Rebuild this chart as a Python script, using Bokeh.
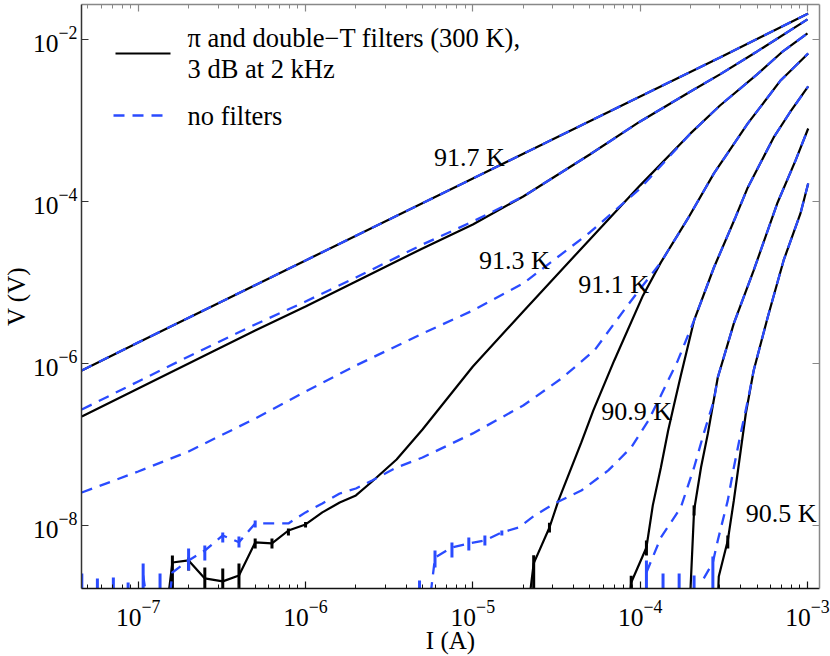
from bokeh.plotting import figure
from bokeh.models import (LogAxis, LogTicker, FixedTicker, Label, Arrow, Range1d)
from bokeh.embed import file_html
from bokeh.resources import INLINE

nan = float("nan")
FONT = "Liberation Serif"
BLACK = "#000000"
BLUE = "#2A4BFF"
DASH = "11 8"

# ---------------- data (current I in A, voltage V in V) ----------------
# 91.7 K
I_917 = [4.6e-8, 1e-7, 1e-6, 1e-5, 1e-4, 3e-4, 1.01e-3]
V_917_f = [8.2e-7, 1.82e-6, 1.87e-5, 1.92e-4, 1.98e-3, 6.0e-3, 2.09e-2]
V_917_n = [8.2e-7, 1.82e-6, 1.87e-5, 1.92e-4, 1.98e-3, 6.0e-3, 2.09e-2]

# 91.5 K
I_915 = [4.6e-8, 1e-7, 2e-7, 5e-7, 1e-6, 2e-6, 5e-6, 1e-5, 2e-5, 5e-5, 1e-4, 2e-4, 3e-4, 5e-4, 1e-3]
V_915_f = [2.22e-7, 4.91e-7, 1.0e-6, 2.55e-6, 5.06e-6, 1.03e-5, 2.63e-5, 5.2e-5, 1.15e-4, 3.8e-4,
           9.72e-4, 2.28e-3, 3.7e-3, 7.11e-3, 1.77e-2]
V_915_n = [2.7e-7, 6.0e-7, 1.22e-6, 3.03e-6, 5.82e-6, 1.15e-5, 2.94e-5, 5.66e-5, 1.15e-4, 3.8e-4,
           9.72e-4, 2.28e-3, 3.7e-3, 7.11e-3, 1.77e-2]

# 91.3 K
I_913_f = [1.3e-7, 1.6e-7, 2.0e-7, 2.5e-7, 3.2e-7, 4.0e-7, 5.0e-7, 6.3e-7, 7.9e-7, 1.0e-6, 1.26e-6,
           1.6e-6, 2.0e-6, 2.5e-6, 3.5e-6, 5e-6, 1e-5, 2e-5, 5e-5, 1e-4, 2e-4, 3e-4, 5e-4, 7e-4, 1e-3]
V_913_f = [1e-10, 3.49e-9, 3.7e-9, 2.22e-9, 2.04e-9, 2.41e-9, 6.17e-9, 6.0e-9, 8.67e-9, 1.03e-8,
           1.45e-8, 1.92e-8, 2.35e-8, 3.49e-8, 6.53e-8, 1.53e-7, 9.18e-7, 4.38e-6, 3.40e-5, 1.58e-4,
           6.92e-4, 1.53e-3, 3.7e-3, 6.91e-3, 1.19e-2]
I_913_n = [4.6e-8, 1e-7, 2e-7, 5e-7, 1e-6, 2e-6, 5e-6, 1e-5, 2e-5, 5e-5, 1e-4, 2e-4, 3e-4, 5e-4, 7e-4, 1e-3]
V_913_n = [2.55e-8, 4.64e-8, 8.2e-8, 2.09e-7, 4.51e-7, 9.44e-7, 2.34e-6, 4.51e-6, 9.72e-6, 4.14e-5,
           1.45e-4, 6.92e-4, 1.53e-3, 3.7e-3, 6.91e-3, 1.19e-2]

# 91.1 K
I_911_f = [2.0e-5, 2.31e-5, 2.87e-5, 3.25e-5, 4.45e-5, 5.25e-5, 7.0e-5, 1.04e-4, 1.33e-4, 1.93e-4,
           2.76e-4, 4.40e-4, 6.91e-4, 1.01e-3]
V_911_f = [3e-10, 3.4e-9, 9.44e-9, 2.04e-8, 1.06e-7, 2.63e-7, 1.09e-6, 6.92e-6, 1.77e-5, 6.17e-5,
           2.22e-4, 9.18e-4, 3.12e-3, 6.72e-3]
I_911_n = [4.6e-8, 5.7e-8, 7.1e-8, 8.7e-8, 1.07e-7, 1.35e-7, 1.6e-7, 2.0e-7, 2.5e-7, 3.2e-7, 4.0e-7,
           5.0e-7, 6.3e-7, 7.9e-7, 1.0e-6, 1.26e-6, 1.6e-6, 2.0e-6, 2.5e-6, 3.5e-6, 5e-6, 1e-5, 2e-5,
           3.39e-5, 5.33e-5, 8.49e-5, 1.06e-4, 1.33e-4, 1.93e-4, 2.76e-4, 4.40e-4, 6.91e-4, 1.01e-3]
V_911_n = [nan, nan, nan, nan, 2.41e-9, 1e-10, 2.63e-9, 3.7e-9, 4.91e-9, 7.53e-9, 6.2e-9,
           1.06e-8, 1.06e-8, 1.06e-8, 1.45e-8, 1.87e-8, 2.48e-8, 2.86e-8, 3.6e-8, 5.2e-8, 6.9e-8,
           1.37e-7, 3.03e-7, 6.53e-7, 1.45e-6, 5.35e-6, 9.72e-6, 1.77e-5, 6.17e-5, 2.22e-4, 9.18e-4,
           3.12e-3, 6.72e-3]

# 90.9 K
I_909_f = [7.7e-5, 8.84e-5, 1.09e-4, 1.19e-4, 1.33e-4, 1.47e-4, 1.59e-4, 1.75e-4, 2.10e-4, 2.76e-4,
           3.73e-4, 4.40e-4, 6.28e-4, 7.92e-4, 1.01e-3]
V_909_f = [1e-10, 1.98e-9, 5.35e-9, 1.77e-8, 5.2e-8, 1.49e-7, 3.03e-7, 7.11e-7, 3.4e-6, 1.53e-5,
           6.53e-5, 1.49e-4, 6.17e-4, 1.29e-3, 2.63e-3]
I_909_n = [4.8e-6, 5.94e-6, 7.5e-6, 9.46e-6, 1.18e-5, 1.49e-5, 1.88e-5, 2.34e-5, 3.08e-5, 4.45e-5,
           6.45e-5, 8.84e-5, 1.12e-4, 1.33e-4, 1.68e-4, 2.10e-4, 2.76e-4, 3.73e-4, 4.40e-4, 6.28e-4,
           7.92e-4, 1.01e-3]
V_909_n = [1e-10, 4.03e-9, 5.35e-9, 6.0e-9, 6.53e-9, 8.2e-9, 9.44e-9, 1.33e-8, 1.87e-8, 2.7e-8,
           4.78e-8, 9.18e-8, 1.98e-7, 4.03e-7, 1.09e-6, 3.4e-6, 1.53e-5, 6.53e-5, 1.49e-4, 6.17e-4,
           1.29e-3, 2.63e-3]

# 90.7 K
I_907_f = [1.88e-4, 2.10e-4, 2.31e-4, 2.54e-4, 2.91e-4, 3.63e-4, 4.77e-4, 6.63e-4, 8.49e-4, 1.01e-3]
V_907_f = [1e-10, 1.53e-8, 5.2e-8, 1.37e-7, 6.72e-7, 3.12e-6, 1.41e-5, 9.72e-5, 3.21e-4, 7.96e-4]
I_907_n = [1.09e-4, 1.33e-4, 1.75e-4, 2.10e-4, 2.40e-4, 2.76e-4, 2.91e-4, 3.63e-4, 4.77e-4, 6.63e-4,
           8.49e-4, 1.01e-3]
V_907_n = [2.63e-9, 7.11e-9, 1.67e-8, 5.2e-8, 1.37e-7, 3.49e-7, 6.72e-7, 3.12e-6, 1.41e-5, 9.72e-5,
           3.21e-4, 7.96e-4]

# 90.5 K
I_905_f = [2.79e-4, 2.95e-4, 3.34e-4, 3.63e-4, 3.99e-4, 4.28e-4, 4.77e-4, 5.78e-4, 7.2e-4, 9.08e-4, 1.01e-3]
V_905_f = [1e-10, 2.35e-9, 6.53e-9, 2.04e-8, 8.43e-8, 2.41e-7, 8.2e-7, 3.7e-6, 1.87e-5, 7.11e-5, 1.67e-4]
I_905_n = [1.37e-4, 1.71e-4, 2.10e-4, 2.40e-4, 2.72e-4, 2.91e-4, 3.34e-4, 3.63e-4, 3.99e-4, 4.40e-4,
           4.77e-4, 5.78e-4, 7.2e-4, 9.08e-4, 1.01e-3]
V_905_n = [nan, nan, nan, 2.22e-9, 3.49e-9, 6.53e-9, 2.04e-8, 5.2e-8, 1.37e-7, 3.49e-7, 8.2e-7,
           3.7e-6, 1.87e-5, 7.11e-5, 1.67e-4]

# error bars (I, lower V, upper V)
EB_f_I = [1.6e-7, 2.0e-7, 2.5e-7, 3.2e-7, 4.0e-7, 5.0e-7, 6.3e-7, 7.9e-7, 1.0e-6,
          2.31e-5, 2.87e-5, 8.84e-5, 1.09e-4, 2.10e-4, 3.34e-4]
EB_f_lo = [1e-10, 2.78e-9, 1e-10, 1e-10, 1e-10, 5.2e-9, 5.2e-9, 7.53e-9, 9.44e-9,
           1e-10, 8.2e-9, 1e-10, 4.26e-9, 1.33e-8, 5.2e-9]
EB_f_hi = [4.26e-9, 4.03e-9, 3.03e-9, 2.94e-9, 3.4e-9, 6.91e-9, 6.91e-9, 9.18e-9, 1.1e-8,
           4.3e-9, 1.08e-8, 2.4e-9, 6.53e-9, 1.77e-8, 7.53e-9]
EB_n_I = [4.6e-8, 5.7e-8, 7.1e-8, 8.7e-8, 1.07e-7, 1.35e-7, 2.0e-7, 2.5e-7, 3.2e-7, 4.0e-7, 5.0e-7,
          4.8e-6, 5.94e-6, 7.5e-6, 9.46e-6, 1.18e-5, 1.49e-5,
          1.09e-4, 1.37e-4, 1.71e-4, 2.10e-4, 2.72e-4]
EB_n_lo = [1e-10, 1e-10, 1e-10, 1e-10, 1e-10, 1e-10, 2.78e-9, 3.7e-9, 6.17e-9, 5.35e-9, 9.44e-9,
           1e-10, 3.03e-9, 4.03e-9, 4.91e-9, 5.66e-9, 7.53e-9,
           1e-10, 1e-10, 1e-10, 1e-10, 1e-10]
EB_n_hi = [2.55e-9, 2.22e-9, 2.28e-9, 1.98e-9, 3.4e-9, 2.55e-9, 5.2e-9, 5.66e-9, 8.2e-9, 7.31e-9, 1.15e-8,
           2.09e-9, 4.91e-9, 6.17e-9, 7.11e-9, 7.53e-9, 8.67e-9,
           3.7e-9, 2.55e-9, 2.55e-9, 2.41e-9, 4.14e-9]

# curve labels: text, I, V (left / middle anchor)
T_labels = ["91.7 K", "91.3 K", "91.1 K", "90.9 K", "90.5 K"]
T_lab_I = [5.86e-6, 1.09e-5, 4.27e-5, 5.86e-5, 4.28e-4]
T_lab_V = [3.49e-4, 1.87e-5, 9.44e-6, 2.55e-7, 1.41e-8]

legend_labels = ["\u03c0 and double\u2212T filters (300 K),", "3 dB at 2 kHz", "no filters"]
x_title = "I (A)"
y_title = "V (V)"

# ---------------- figure ----------------
p = figure(width=830, height=656, x_axis_type="log", y_axis_type="log",
           x_range=Range1d(4.58e-8, 1.18e-3), y_range=Range1d(1.667e-9, 2.70e-2),
           output_backend="svg", toolbar_location=None,
           min_border_left=78, min_border_right=11, min_border_top=4, min_border_bottom=68)
p.grid.visible = False
p.outline_line_color = None
p.background_fill_color = "white"
p.border_fill_color = "white"

xt = LogTicker(num_minor_ticks=10)
yt = FixedTicker(ticks=[1e-8, 1e-6, 1e-4, 1e-2], minor_ticks=[])
p.xaxis.ticker = xt
p.yaxis.ticker = yt


def style(ax, color, labels=True):
    ax.axis_line_color = color
    ax.axis_line_width = 1.5
    ax.major_tick_line_color = color
    ax.minor_tick_line_color = color
    ax.major_tick_line_width = 1.2
    ax.minor_tick_line_width = 1.0
    ax.major_tick_in = 7
    ax.major_tick_out = 0
    ax.minor_tick_in = 4
    ax.minor_tick_out = 0
    ax.major_label_text_font = FONT
    if labels:
        ax.major_label_text_font_size = "25.5px"
        ax.major_label_text_color = "#000000"
        ax.axis_label_text_font = FONT
        ax.axis_label_text_font_size = "25px"
        ax.axis_label_text_font_style = "normal"
        ax.axis_label_text_color = "#000000"
    else:
        ax.major_label_text_font_size = "1px"
        ax.major_label_text_color = None
        ax.major_label_standoff = 0


style(p.xaxis[0], "#111111")
style(p.yaxis[0], "#333333")
p.xaxis[0].major_label_standoff = 12
p.yaxis[0].major_label_standoff = 4
p.xaxis[0].axis_label = x_title
p.yaxis[0].axis_label = y_title
p.xaxis[0].axis_label_standoff = -2
p.yaxis[0].axis_label_standoff = 0

top = LogAxis(ticker=xt)
style(top, "#888888", labels=False)
p.add_layout(top, "above")
right = LogAxis(ticker=yt)
style(right, "#888888", labels=False)
p.add_layout(right, "right")

filt = [(I_917, V_917_f), (I_915, V_915_f), (I_913_f, V_913_f), (I_911_f, V_911_f),
        (I_909_f, V_909_f), (I_907_f, V_907_f), (I_905_f, V_905_f)]
nof = [(I_917, V_917_n), (I_915, V_915_n), (I_913_n, V_913_n), (I_911_n, V_911_n),
       (I_909_n, V_909_n), (I_907_n, V_907_n), (I_905_n, V_905_n)]

for I, V in filt:
    p.line(I, V, line_color=BLACK, line_width=2.2)
p.segment(x0=EB_f_I, y0=EB_f_lo, x1=EB_f_I, y1=EB_f_hi, line_color=BLACK, line_width=3)
for I, V in nof:
    p.line(I, V, line_color=BLUE, line_width=2.3, line_dash=DASH)
p.segment(x0=EB_n_I, y0=EB_n_lo, x1=EB_n_I, y1=EB_n_hi, line_color=BLUE, line_width=3)

for t, xi, yv in zip(T_labels, T_lab_I, T_lab_V):
    p.add_layout(Label(x=xi, y=yv, text=t, text_font=FONT, text_font_size="26px",
                       text_align="left", text_baseline="middle", text_color="black"))

# legend (screen units relative to frame: x from left, y from bottom)
p.add_layout(Arrow(x_start=34, y_start=535, x_end=89, y_end=535, start_units="screen",
                   end_units="screen", start=None, end=None, line_color=BLACK, line_width=2.2))
p.add_layout(Arrow(x_start=32, y_start=473, x_end=87, y_end=473, start_units="screen",
                   end_units="screen", start=None, end=None, line_color=BLUE, line_width=2.3,
                   line_dash=DASH))
for txt, ys in zip(legend_labels, [551, 520, 473]):
    p.add_layout(Label(x=106, y=ys, x_units="screen", y_units="screen", text=txt,
                       text_font=FONT, text_font_size="26.5px", text_align="left",
                       text_baseline="middle", text_color="black"))

open("out.html", "w").write(file_html(p, INLINE))
